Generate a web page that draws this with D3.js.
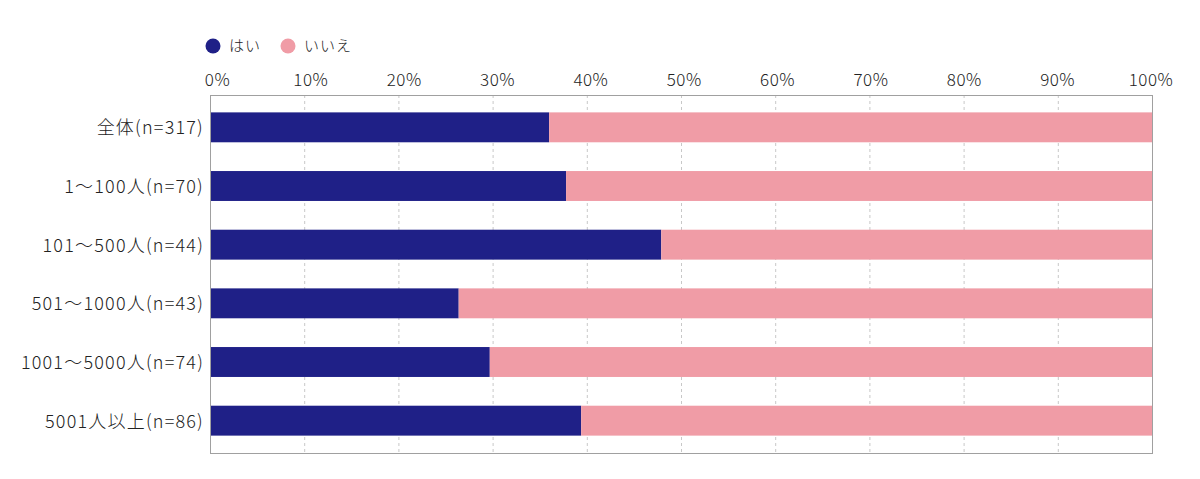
<!DOCTYPE html>
<html>
<head>
<meta charset="utf-8">
<script src="https://cdn.jsdelivr.net/npm/d3@7"></script>
<style>
  body { margin: 0; background: #fff; }
  svg text { font-family: "Noto Sans CJK JP", "Noto Sans", sans-serif; font-weight: 300; fill: #222; }
</style>
</head>
<body>
<div id="chart"></div>
<script>
var categories = ["全体(n=317)", "1～100人(n=70)", "101～500人(n=44)", "501～1000人(n=43)", "1001～5000人(n=74)", "5001人以上(n=86)"];
var yesValues = [36.0, 37.8, 47.9, 26.4, 29.7, 39.4];
var noValues = [64.0, 62.2, 52.1, 73.6, 70.3, 60.6];
var seriesNames = ["はい", "いいえ"];
var tickValues = [0, 10, 20, 30, 40, 50, 60, 70, 80, 90, 100];

var colors = ["#1f2087", "#f09ca6"];

var width = 1200, height = 479;

var svg = d3.select("#chart")
  .append("svg")
  .attr("width", width)
  .attr("height", height);

//plot area
var plotLeft = 210, plotRight = 1152, plotTop = 95, plotBottom = 453;

var x = d3.scaleLinear().domain([0, 100]).range([plotLeft, plotRight]);
// labels above the axis sit slightly off the grid lines in the original
var xLabel = d3.scaleLinear().domain([0, 100]).range([217.5, 1151]);

var y = d3.scaleBand()
  .domain(categories)
  .range([plotTop + 3, plotBottom - 3])
  .paddingInner(0.49)
  .paddingOuter(0.245);

//grid lines
svg.append("g")
  .selectAll("line")
  .data(tickValues.slice(1, -1))
  .enter()
  .append("line")
    .attr("x1", function (d) { return x(d) + 0.5; })
    .attr("x2", function (d) { return x(d) + 0.5; })
    .attr("y1", plotTop)
    .attr("y2", plotBottom)
    .attr("stroke", "#c8c8c8")
    .attr("stroke-dasharray", "3,3");

//stacked data
var rows = categories.map(function (c, i) {
  return { cat: c, yes: yesValues[i], no: noValues[i] };
});
var stack = d3.stack().keys(["yes", "no"]);
var layers = stack(rows);

svg.append("g")
  .selectAll("g")
  .data(layers)
  .enter()
  .append("g")
    .attr("fill", function (d, i) { return colors[i]; })
  .selectAll("rect")
  .data(function (d) { return d; })
  .enter()
  .append("rect")
    .attr("x", function (d) { return x(d[0]); })
    .attr("y", function (d) { return y(d.data.cat); })
    .attr("width", function (d) { return x(d[1]) - x(d[0]); })
    .attr("height", y.bandwidth());

//plot border
svg.append("rect")
  .attr("x", plotLeft + 0.5)
  .attr("y", plotTop + 0.5)
  .attr("width", plotRight - plotLeft)
  .attr("height", plotBottom - plotTop)
  .attr("fill", "none")
  .attr("stroke", "#a0a0a0");

//tick labels on top
svg.append("g")
  .selectAll("text")
  .data(tickValues)
  .enter()
  .append("text")
    .attr("x", function (d) { return xLabel(d); })
    .attr("y", 86)
    .attr("text-anchor", "middle")
    .attr("font-size", 17)
    .attr("letter-spacing", 0.5)
    .text(function (d) { return d + "%"; });

//category labels
svg.append("g")
  .selectAll("text")
  .data(categories)
  .enter()
  .append("text")
    .attr("x", 204)
    .attr("y", function (d) { return y(d) + y.bandwidth() / 2; })
    .attr("dy", "0.38em")
    .attr("text-anchor", "end")
    .attr("font-size", 18)
    .attr("letter-spacing", 1.2)
    .text(function (d) { return d; });

//legend
var legendX = [213, 288];
var legend = svg.append("g")
  .selectAll("g")
  .data(seriesNames)
  .enter()
  .append("g")
    .attr("transform", function (d, i) { return "translate(" + legendX[i] + ",46)"; });

legend.append("circle")
  .attr("r", 7.5)
  .attr("fill", function (d, i) { return colors[i]; });

legend.append("text")
  .attr("x", 16)
  .attr("dy", "0.35em")
  .attr("font-size", 15)
  .attr("letter-spacing", 1)
  .text(function (d) { return d; });
</script>
</body>
</html>
